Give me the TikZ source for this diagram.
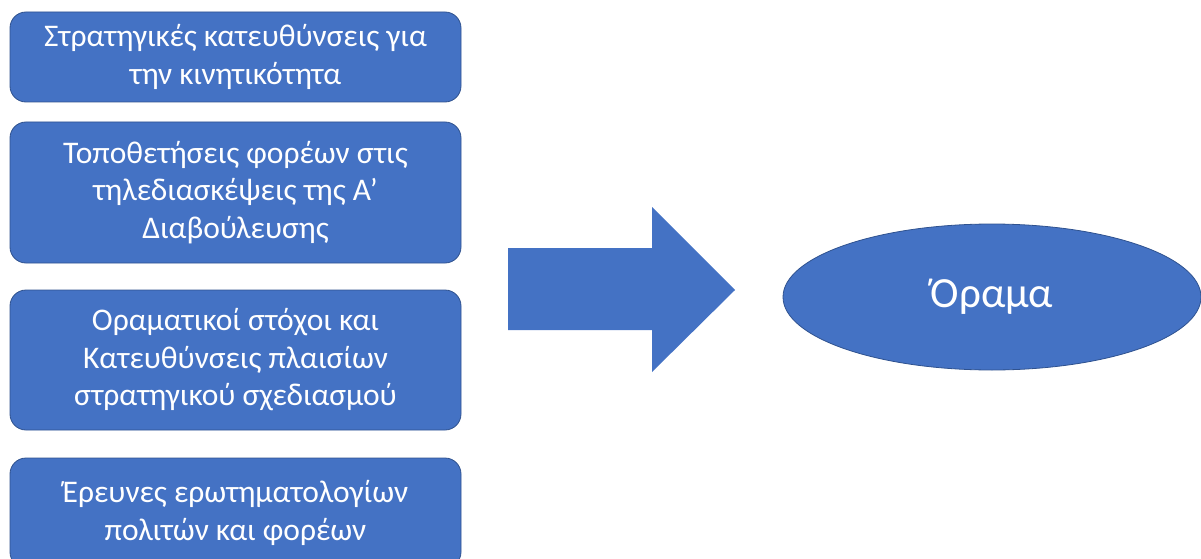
\documentclass[tikz,border=0pt]{standalone}
\usepackage{fontspec}
\setmainfont{Carlito}
\usetikzlibrary{shapes.geometric}
\definecolor{boxblue}{HTML}{4472C4}
\definecolor{boxline}{HTML}{2F528F}

\begin{document}
\begin{tikzpicture}[x=1pt,y=-1pt,
  inputbox/.style={draw=boxline,line width=0.8pt,fill=boxblue,rounded corners=16pt,text=white,
    align=center,font=\fontsize{31.5}{37.5}\selectfont,minimum width=451pt,inner sep=0pt},
  visionnode/.style={draw=boxline,line width=0.8pt,fill=boxblue,ellipse,text=white,
    minimum width=418pt,minimum height=146pt,font=\fontsize{43}{50}\selectfont}]
  \useasboundingbox (0,0) rectangle (1201,559);
  \clip (0,0) rectangle (1201,559);

  % Sources on the left
  \node[inputbox,minimum height=90pt] (strat) at (235.5,57) {Στρατηγικές κατευθύνσεις για\\την κινητικότητα};
  \node[inputbox,minimum height=141pt] (tele) at (235.5,192.5) {Τοποθετήσεις φορέων στις\\τηλεδιασκέψεις της Α’\\Διαβούλευσης};
  \node[inputbox,minimum height=140pt] (goals) at (235.5,360) {Οραματικοί στόχοι και\\Κατευθύνσεις πλαισίων\\στρατηγικού σχεδιασμού};
  \node[inputbox,minimum height=110pt] (survey) at (235.5,513) {Έρευνες ερωτηματολογίων\\πολιτών και φορέων};

  % Block arrow
  \fill[boxblue] (508,248) -- (652,248) -- (652,207) -- (735,290) -- (652,372) -- (652,330) -- (508,330) -- cycle;

  % Vision
  \node[visionnode] (vision) at (992,297) {Όραμα};
\end{tikzpicture}
\end{document}
